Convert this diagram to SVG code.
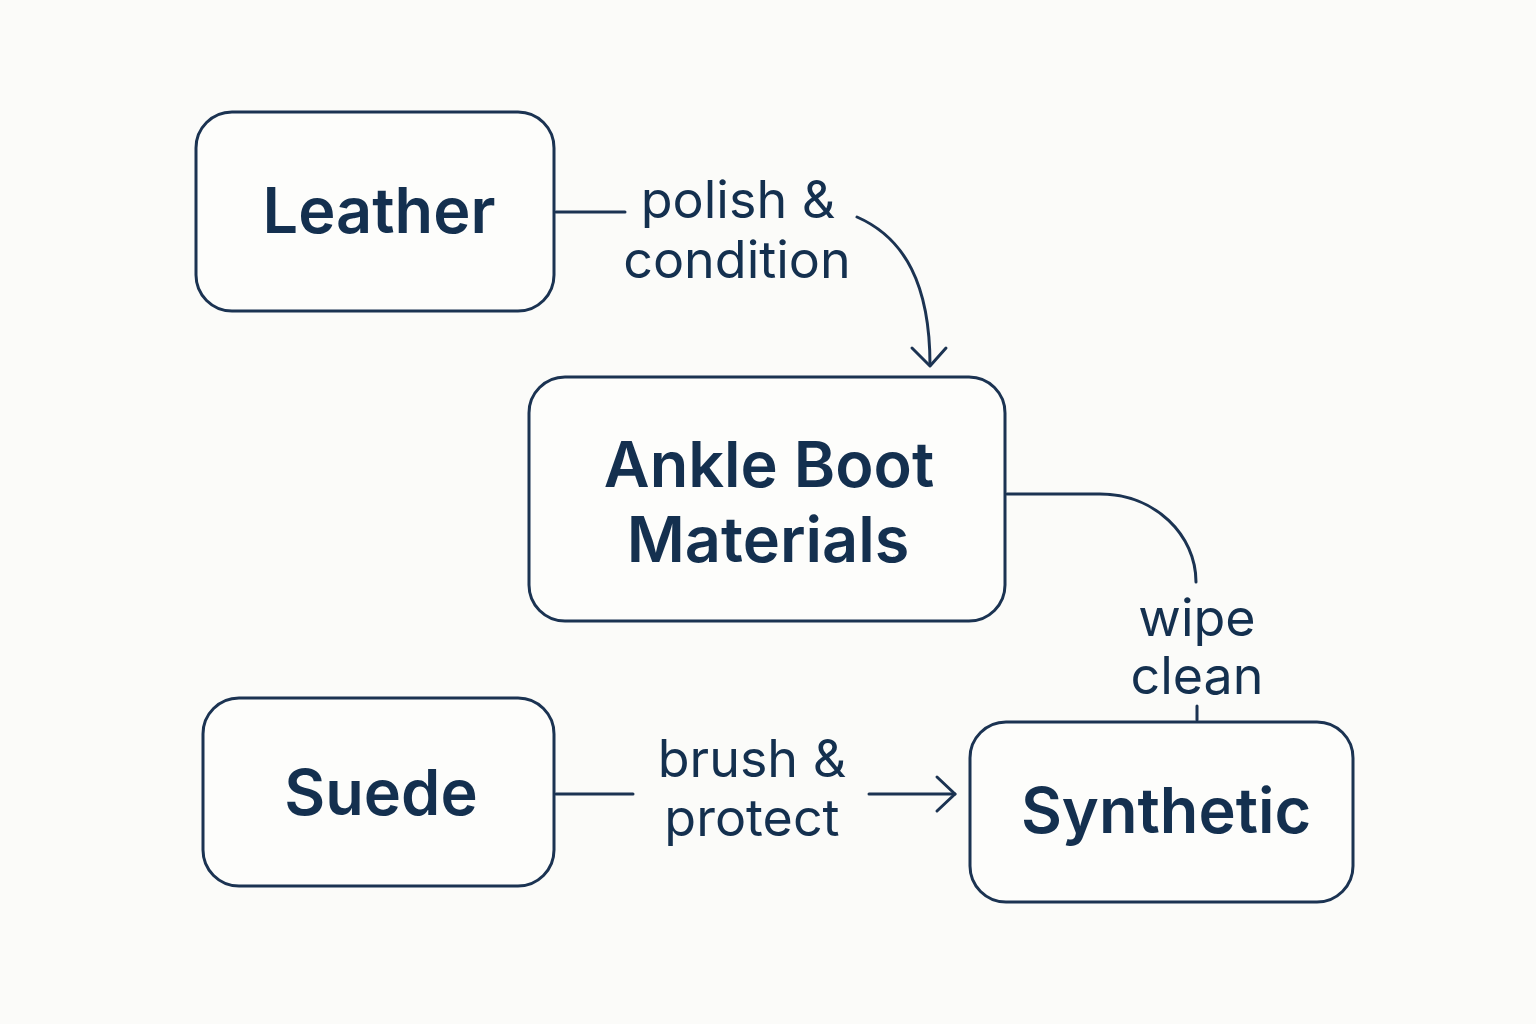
<svg xmlns="http://www.w3.org/2000/svg" width="1536" height="1024" viewBox="0 0 1536 1024">
<style>
.box{fill:#fdfdfb;stroke:#1b3352;stroke-width:3}
.t{font-family:Inter,"Noto Sans",sans-serif;font-weight:600;fill:#14304f;text-anchor:middle;font-size:63px}
.l{font-family:Inter,"Noto Sans",sans-serif;font-weight:400;fill:#14304f;text-anchor:middle;font-size:52px}
.c{fill:none;stroke:#1b3352;stroke-width:3;stroke-linecap:round;stroke-linejoin:round}
</style>
<rect width="1536" height="1024" fill="#fbfbf9"/>
<g id="connectors">
<path class="c" d="M556,212 L625,212"/>
<path class="c" d="M857,217 C905,238 930,285 930,365"/>
<path class="c" d="M912,348 L930,366 L946,348"/>
<path class="c" d="M1007,494 L1100,494 C1155,494 1196,535 1196,582"/>
<path class="c" d="M1197,706 L1197,720"/>
<path class="c" d="M556,794 L633,794"/>
<path class="c" d="M869,794 L955,794"/>
<path class="c" d="M937,777 L955,794 L937,811"/>
<text class="l" x="738" y="218">polish &amp;</text>
<text class="l" x="737" y="278">condition</text>
<text class="l" x="1197" y="636">wipe</text>
<text class="l" x="1197" y="694">clean</text>
<text class="l" x="752" y="777">brush &amp;</text>
<text class="l" x="752" y="836">protect</text>
</g>
<g id="leather">
<rect class="box" x="196" y="112" width="358" height="199" rx="36"/>
<text class="t" x="379" y="233">Leather</text>
</g>
<g id="ankle-boot">
<rect class="box" x="529" y="377" width="476" height="244" rx="36"/>
<text class="t" x="769" y="487" font-size="65">Ankle Boot</text>
<text class="t" x="768" y="562" font-size="65">Materials</text>
</g>
<g id="suede">
<rect class="box" x="203" y="698" width="351" height="188" rx="36"/>
<text class="t" x="381" y="815">Suede</text>
</g>
<g id="synthetic">
<rect class="box" x="970" y="722" width="383" height="180" rx="36"/>
<text class="t" x="1166" y="833">Synthetic</text>
</g>
</svg>
